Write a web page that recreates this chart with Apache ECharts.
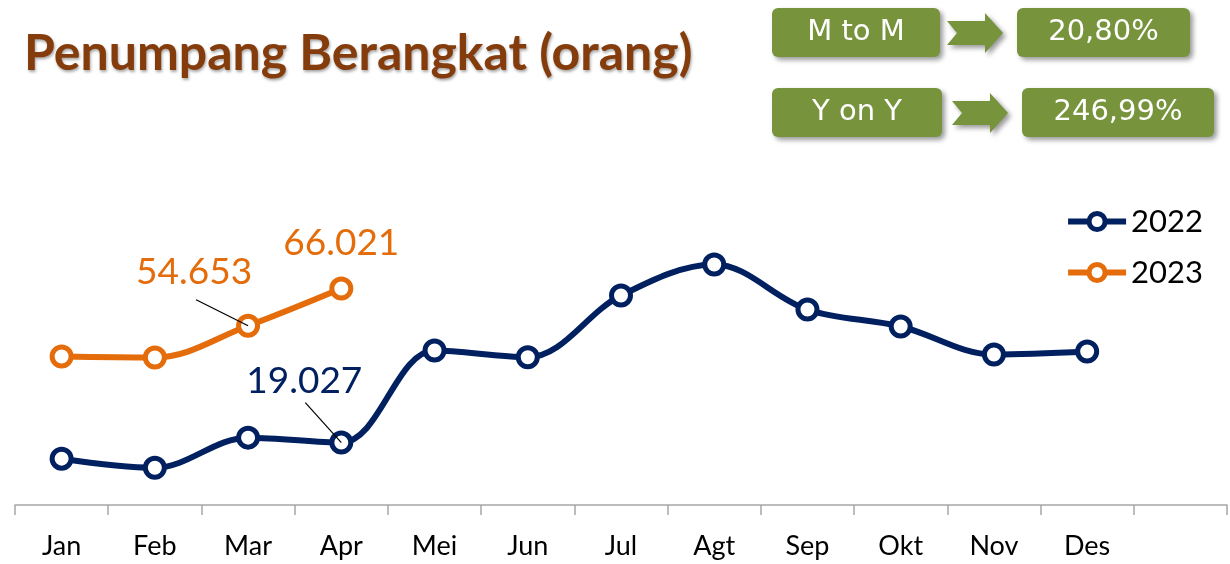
<!DOCTYPE html>
<html>
<head>
<meta charset="utf-8">
<script src="https://cdn.jsdelivr.net/npm/echarts@6/dist/echarts.min.js"></script>
<style>
  html, body { margin: 0; padding: 0; background: #fff; }
  #chart { width: 1230px; height: 564px; }
</style>
</head>
<body>
<div id="chart"></div>
<script>
// bulan, slot terakhir kosong seperti di sumbu aslinya
const months = ['Jan', 'Feb', 'Mar', 'Apr', 'Mei', 'Jun', 'Jul', 'Agt', 'Sep', 'Okt', 'Nov', 'Des', ''];
const data2022 = [14130, 11380, 20540, 19027, 47090, 45050, 63880, 73340, 59600, 54420, 45870, 46790];
const data2023 = [45260, 44960, 54653, 66021];
// bulan yang diberi label angka
const labeled2022 = [3];
const labeled2023 = [2, 3];
const growthNames = ['M to M', 'Y on Y'];
const growthValues = ['20,80%', '246,99%'];

const navy = '#002060';
const orange = '#E46C0A';
const green = '#77933C';
const font = 'Lato, "Open Sans", sans-serif';

// posisi label relatif ke titik (px)
const labelOffsets = {
  '0-3': [-37, -62],
  '1-2': [-54, -54],
  '1-3': [0, -45],
};
// garis penunjuk label: [seri, indeks, dx, dy]
const leaders = [
  [0, 3, -36, -40],
  [1, 2, -52, -26],
];

const chart = echarts.init(document.getElementById('chart'));

function fmt(v) {
  return v.toLocaleString('de-DE');
}

function buildData(seriesIdx, values, labeled) {
  return values.map((v, i) => {
    if (labeled.indexOf(i) < 0) return v;
    return { value: v, label: { show: true, offset: labelOffsets[seriesIdx + '-' + i] } };
  });
}

// kotak hijau di kanan atas
function growthBoxes() {
  const items = [];
  const rows = [
    { y: 8, box1: [772, 168], arrow: 947, box2: [1017, 173] },
    { y: 88, box1: [772, 170], arrow: 952, box2: [1022, 192] },
  ];
  rows.forEach((r, i) => {
    const h = 49;
    const shadow = { shadowBlur: 5, shadowOffsetX: 3, shadowOffsetY: 3, shadowColor: 'rgba(0,0,0,0.4)' };
    items.push({
      type: 'rect',
      shape: { x: r.box1[0], y: r.y, width: r.box1[1], height: h, r: 6 },
      style: Object.assign({ fill: green }, shadow),
    });
    items.push({
      type: 'text',
      x: r.box1[0] + r.box1[1] / 2, y: r.y + h / 2,
      style: { text: growthNames[i], fill: '#fff', font: '29px "DejaVu Sans", sans-serif', align: 'center', verticalAlign: 'middle' },
    });
    const ax = r.arrow, ay = r.y + 5;
    items.push({
      type: 'polygon',
      shape: { points: [[ax, ay + 8], [ax + 38, ay + 8], [ax + 38, ay], [ax + 56, ay + 20], [ax + 38, ay + 40], [ax + 38, ay + 32], [ax, ay + 32], [ax + 10, ay + 20]] },
      style: Object.assign({ fill: green }, shadow),
    });
    items.push({
      type: 'rect',
      shape: { x: r.box2[0], y: r.y, width: r.box2[1], height: h, r: 6 },
      style: Object.assign({ fill: green }, shadow),
    });
    items.push({
      type: 'text',
      x: r.box2[0] + r.box2[1] / 2, y: r.y + h / 2,
      style: { text: growthValues[i], fill: '#fff', font: '29px "DejaVu Sans", sans-serif', align: 'center', verticalAlign: 'middle' },
    });
  });
  return items;
}

function seriesLabel(color) {
  return {
    show: false,
    position: 'inside',
    color: color,
    fontFamily: font,
    fontSize: 37,
    formatter: (p) => fmt(p.value),
  };
}

function legendItem(name, color) {
  return {
    name: name,
    itemStyle: { color: '#fff', borderColor: color, borderWidth: 5 },
    lineStyle: { color: color, width: 6 },
  };
}

const option = {
  animation: false,
  backgroundColor: '#fff',
  title: {
    text: 'Penumpang Berangkat (orang)',
    left: 19,
    top: 24,
    textStyle: {
      color: '#843C0C',
      fontFamily: font,
      fontWeight: 'bold',
      fontSize: 50,
      textShadowColor: 'rgba(0,0,0,0.35)',
      textShadowBlur: 3,
      textShadowOffsetX: 1,
      textShadowOffsetY: 2,
    },
  },
  legend: {
    orient: 'vertical',
    right: 22,
    top: 201,
    itemWidth: 58,
    itemHeight: 20,
    itemGap: 20,
    textStyle: { fontFamily: font, fontSize: 31, color: '#000' },
    data: [legendItem('2022', navy), legendItem('2023', orange)],
  },
  grid: { left: 15, right: 3, top: 200, bottom: 59 },
  xAxis: {
    type: 'category',
    data: months,
    boundaryGap: true,
    axisLine: { lineStyle: { color: '#A6A6A6', width: 1.5 } },
    axisTick: { show: true, interval: 0, length: 10, lineStyle: { color: '#A6A6A6', width: 1.5 } },
    axisLabel: { interval: 0, fontFamily: font, fontSize: 27, color: '#000', margin: 28 },
  },
  yAxis: {
    type: 'value',
    min: 0,
    max: 93000,
    show: false,
    splitLine: { show: false },
  },
  series: [
    {
      name: '2022',
      type: 'line',
      smooth: 0.35,
      data: buildData(0, data2022, labeled2022),
      symbol: 'circle',
      symbolSize: 19,
      lineStyle: { color: navy, width: 6 },
      itemStyle: { color: '#fff', borderColor: navy, borderWidth: 5 },
      label: seriesLabel(navy),
      z: 3,
    },
    {
      name: '2023',
      type: 'line',
      smooth: 0.35,
      data: buildData(1, data2023, labeled2023),
      symbol: 'circle',
      symbolSize: 19,
      lineStyle: { color: orange, width: 6 },
      itemStyle: { color: '#fff', borderColor: orange, borderWidth: 5 },
      label: seriesLabel(orange),
      z: 3,
    },
  ],
  graphic: growthBoxes(),
};

chart.setOption(option);

// garis penunjuk, ujungnya dihitung dari skala chart
const seriesValues = [data2022, data2023];
const leaderLines = leaders.map(([s, i, dx, dy]) => {
  const p = chart.convertToPixel({ seriesIndex: s }, [i, seriesValues[s][i]]);
  return {
    type: 'line',
    z: 100,
    shape: { x1: p[0] + dx, y1: p[1] + dy, x2: p[0], y2: p[1] },
    style: { stroke: '#000', lineWidth: 1.2 },
  };
});
chart.setOption({ graphic: growthBoxes().concat(leaderLines) });
</script>
</body>
</html>
